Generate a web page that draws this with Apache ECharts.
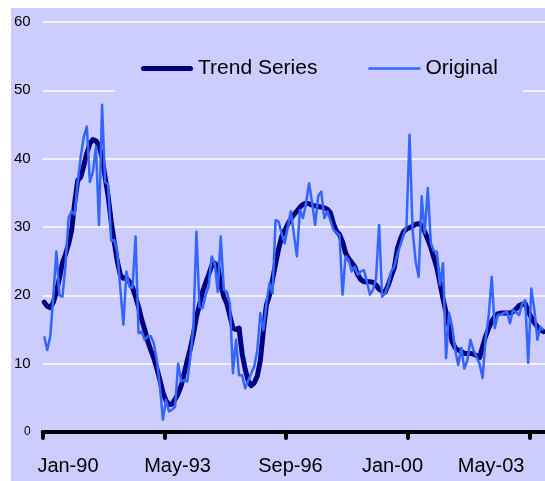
<!DOCTYPE html>
<html>
<head>
<meta charset="utf-8">
<title>Trend Series vs Original</title>
<script src="https://cdn.jsdelivr.net/npm/echarts@6/dist/echarts.min.js"></script>
<style>
  html, body { margin: 0; padding: 0; background: #fff; overflow: hidden; }
  #chart { position: absolute; left: 11px; top: 8px; width: 534px; height: 473px; }
</style>
</head>
<body>
<div id="chart"></div>
<script>
// monthly values, Jan-90 onwards
var trend = [
  19.0, 18.4, 18.2, 19.0, 20.5, 22.5, 24.8, 26.0, 27.5, 29.5, 33.5, 36.8,
  37.3, 39.0, 40.8, 42.2, 42.8, 42.6, 41.9, 40.2, 37.3, 34.5, 30.8, 27.8,
  25.0, 23.0, 22.5, 22.5, 22.0, 21.2, 19.8, 18.3, 16.5, 15.0, 13.3, 12.0,
  10.8, 9.3, 7.6, 5.8, 4.6, 4.0, 4.1, 4.8, 5.6, 6.8, 8.6, 10.5,
  12.2, 14.3, 16.8, 18.6, 20.5, 21.8, 23.0, 24.3, 24.7, 24.3, 21.5, 19.8,
  18.8, 17.0, 15.2, 15.0, 15.2, 11.5, 9.2, 7.5, 6.8, 7.2, 8.2, 10.5,
  14.9, 18.6, 20.0, 22.3, 24.6, 26.8, 28.6, 29.5, 30.4, 31.2, 31.8, 32.3,
  32.9, 33.3, 33.5, 33.4, 33.2, 33.1, 33.0, 32.9, 32.8, 32.6, 32.1, 30.5,
  29.4, 28.9, 27.8, 26.2, 25.4, 24.8, 24.2, 23.0, 22.3, 22.0, 22.0, 22.0,
  21.9, 21.5, 20.9, 20.6, 20.5, 21.5, 22.8, 24.0, 26.8, 28.2, 29.3, 29.7,
  29.9, 30.1, 30.4, 30.5, 30.2, 29.3, 28.2, 27.0, 25.5, 24.0, 21.8, 19.5,
  17.5, 15.5, 13.2, 12.3, 12.0, 11.8, 11.5, 11.5, 11.5, 11.4, 11.2, 10.9,
  12.5, 14.0, 15.2, 16.2, 16.9, 17.3, 17.4, 17.4, 17.4, 17.4, 17.6, 18.0,
  18.5, 18.7, 18.8, 17.6, 16.8, 16.0, 15.4, 14.9, 14.7
]
var original = [
  14.0, 12.0, 14.0, 20.0, 26.4, 20.0, 19.8, 24.5, 31.3, 32.3, 31.8, 36.5,
  40.3, 43.2, 44.7, 36.6, 38.1, 41.8, 30.3, 47.9, 36.6, 36.2, 28.0, 28.1,
  26.4, 21.0, 15.7, 23.5, 21.3, 21.1, 28.6, 14.5, 14.7, 13.5, 14.0, 14.0,
  13.0, 10.5, 6.6, 1.8, 4.7, 3.0, 3.3, 3.7, 10.0, 7.4, 7.6, 7.4,
  11.0, 15.4, 29.3, 18.3, 18.1, 20.0, 21.3, 25.7, 24.7, 20.5, 28.6, 20.8,
  20.5, 18.8, 8.6, 13.5, 8.3, 8.3, 6.4, 7.5, 8.6, 9.6, 12.0, 17.4,
  14.9, 18.8, 21.8, 20.3, 31.0, 30.8, 29.0, 27.6, 30.0, 32.3, 29.0, 25.7,
  32.5, 31.3, 33.5, 36.4, 33.5, 30.3, 34.5, 35.2, 31.3, 32.3, 31.0, 29.6,
  29.2, 28.8, 20.1, 25.7, 25.2, 23.5, 24.2, 23.0, 23.5, 23.7, 22.0, 20.1,
  20.8, 22.5, 30.3, 19.8, 20.3, 21.5, 23.5, 24.2, 26.0, 27.4, 28.8, 30.1,
  43.5, 29.6, 25.0, 22.7, 34.5, 29.1, 35.7, 27.6, 26.5, 26.4, 21.5, 24.7,
  10.8, 17.4, 15.4, 12.0, 9.8, 12.3, 9.3, 10.5, 13.5, 12.0, 11.0, 10.0,
  7.9, 13.7, 17.0, 22.7, 15.2, 17.1, 17.2, 17.4, 17.6, 15.9, 17.9, 17.5,
  17.1, 18.8, 19.3, 10.1, 21.0, 17.9, 13.5, 15.4, 14.9
]
var xLabels = ['Jan-90', 'May-93', 'Sep-96', 'Jan-00', 'May-03']
var xLabelPos = [8.3, 44.3, 81.4, 114.9, 147.3]
var xTickPos = [0, 40, 80, 120, 160]

var monthNames = ['Jan', 'Feb', 'Mar', 'Apr', 'May', 'Jun', 'Jul', 'Aug', 'Sep', 'Oct', 'Nov', 'Dec']
var months = []
for (var i = 0; i < trend.length; i++) {
  var yr = (90 + Math.floor(i / 12)) % 100
  months.push(monthNames[i % 12] + '-' + (yr < 10 ? '0' : '') + yr)
}

var font = 'Arial, "Liberation Sans", sans-serif'
var chart = echarts.init(document.getElementById('chart'))
chart.setOption({
  backgroundColor: '#ccccff',
  animation: false,
  textStyle: { fontFamily: font },
  grid: { left: 31.6, right: 0, top: 14, bottom: 49 },
  legend: {
    data: [
      // plain bars as line keys, no marker dot
      { name: 'Trend Series', icon: 'path://M2.5,0L49.5,0A2.5,2.5,0,0,1,49.5,5L2.5,5A2.5,2.5,0,0,1,2.5,0Z' },
      { name: 'Original', icon: 'path://M0,0L50,0L50,2.4L0,2.4Z' }
    ],
    left: 104,
    top: 40,
    padding: [10, 25, 14, 26],
    backgroundColor: '#ccccff',
    itemWidth: 52,
    itemHeight: 14,
    itemGap: 51,
    textStyle: { fontSize: 21, color: '#000', fontFamily: font }
  },
  xAxis: [{
    type: 'category',
    data: months,
    boundaryGap: true,
    axisLine: { lineStyle: { color: '#000', width: 4, cap: 'round' } },
    axisTick: { show: false },
    axisLabel: { show: false },
    splitLine: { show: false }
  }, {
    // tick and label positions along the month scale
    type: 'value',
    min: 0,
    max: months.length,
    position: 'bottom',
    axisLine: { show: false },
    axisTick: {
      show: true,
      customValues: xTickPos,
      length: 6,
      lineStyle: { color: '#000', width: 4, cap: 'round' }
    },
    splitLine: { show: false },
    axisLabel: {
      customValues: xLabelPos,
      fontSize: 20,
      color: '#000',
      margin: 24,
      fontFamily: font,
      formatter: function (v) {
        for (var j = 0; j < xLabelPos.length; j++) {
          if (Math.abs(xLabelPos[j] - v) < 0.01) return xLabels[j]
        }
        return ''
      }
    }
  }],
  yAxis: {
    type: 'value',
    min: 0,
    max: 60,
    interval: 10,
    axisLine: { show: false },
    axisTick: { show: false },
    splitLine: { lineStyle: { color: '#ffffff', width: 1.5 } },
    axisLabel: {
      fontSize: 15,
      color: '#000',
      margin: 12,
      fontFamily: font,
      formatter: function (v) { return v === 0 ? '{s|0}' : v },
      rich: { s: { fontSize: 12, color: '#000', fontFamily: font } }
    }
  },
  series: [{
    name: 'Trend Series',
    type: 'line',
    data: trend,
    symbol: 'none',
    color: '#000080',
    lineStyle: { width: 5, color: '#000080', cap: 'round', join: 'round' }
  }, {
    name: 'Original',
    type: 'line',
    data: original,
    symbol: 'none',
    color: '#3366ff',
    lineStyle: { width: 2.5, color: '#3366ff', join: 'round' }
  }]
})
</script>
</body>
</html>
